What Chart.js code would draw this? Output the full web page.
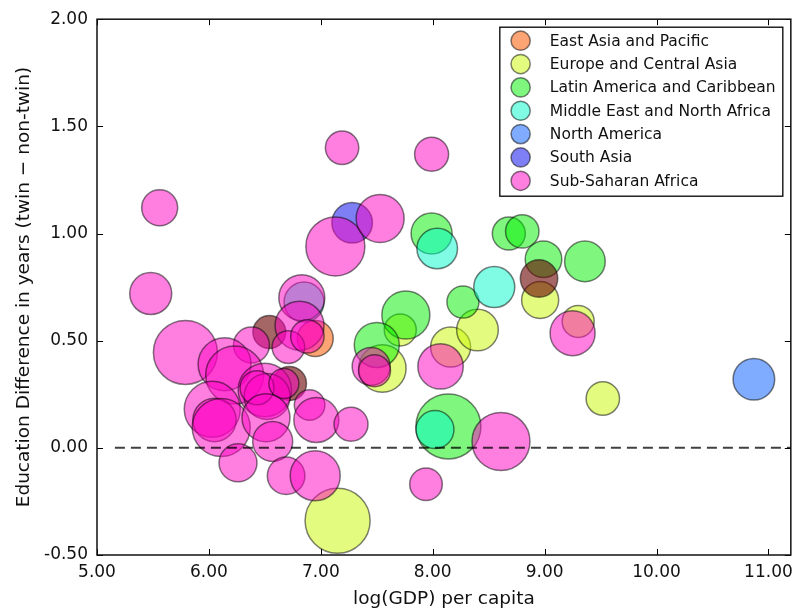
<!DOCTYPE html>
<html>
<head>
<meta charset="utf-8">
<script src="https://cdn.jsdelivr.net/npm/chart.js@4.4.0/dist/chart.umd.min.js"></script>
<style>
html,body{margin:0;padding:0;background:#fff;}
#wrap{width:800px;height:614px;}
</style>
</head>
<body>
<div id="wrap"><canvas id="c" width="800" height="614"></canvas></div>
<script>
// ---- data (x = log GDP per capita, y = education difference, s = bubble size) ----
const regionNames = ["East Asia and Pacific","Europe and Central Asia","Latin America and Caribbean","Middle East and North Africa","North America","South Asia","Sub-Saharan Africa"];

const eapX = [6.95];
const eapY = [0.51];
const eapS = [18];

const ecaX = [7.15, 7.55, 7.71, 8.16, 8.40, 8.96, 9.30, 9.52];
const ecaY = [-0.34, 0.37, 0.55, 0.47, 0.55, 0.69, 0.59, 0.23];
const ecaS = [32.5, 23.7, 16, 20, 20.8, 18.5, 16, 16.7];

const lacX = [7.99, 8.68, 8.80, 8.99, 9.36, 8.27, 7.76, 7.50, 8.14];
const lacY = [1.00, 1.00, 1.01, 0.88, 0.87, 0.68, 0.62, 0.48, 0.10];
const lacS = [20.5, 16.5, 16.7, 18.3, 20.3, 16, 24, 22.5, 32.5];

const menaX = [8.04, 8.55, 8.02, 6.85];
const menaY = [0.93, 0.75, 0.085, 0.68];
const menaS = [20.3, 20.5, 19, 20];

const naX = [10.87];
const naY = [0.32];
const naS = [20.8];

const saX = [7.28];
const saY = [1.05];
const saS = [20.3];

const otherX = [6.54, 8.95, 6.72];
const otherY = [0.54, 0.79, 0.30];
const otherS = [16.5, 18.7, 17];

const ssaX = [7.19, 7.99, 5.56, 5.48, 7.13, 7.53, 5.79, 6.83, 6.81, 6.71, 6.88, 6.38, 6.14, 6.23, 6.50, 6.52, 6.43, 6.67, 6.90, 6.96, 7.27, 6.03, 6.05, 6.11, 6.51, 6.57, 6.26, 6.69, 6.95, 7.45, 7.48, 8.07, 9.25, 8.61, 7.94];
const ssaY = [1.40, 1.37, 1.12, 0.72, 0.94, 1.07, 0.445, 0.70, 0.57, 0.47, 0.52, 0.48, 0.39, 0.34, 0.27, 0.24, 0.28, 0.30, 0.20, 0.13, 0.11, 0.18, 0.13, 0.095, 0.14, 0.03, -0.07, -0.13, -0.13, 0.38, 0.36, 0.38, 0.535, 0.03, -0.17];
const ssaS = [16.7, 17, 18, 21, 29.5, 24, 32, 23, 24.5, 16.3, 16.7, 18, 26.5, 29, 26.7, 23, 17, 15, 15.3, 22.5, 17, 28, 21.7, 29, 24, 20, 19, 18.8, 25, 19, 16, 22.7, 22.5, 29, 16.3];

const xTickMin = 5, xTickMax = 11.2, xStep = 1;
const yTickMin = -0.5, yTickMax = 2, yStep = 0.5;
const refLineY = 0, refLineStart = 5.16;

// ---- styling ----
const colors = {
  eap: 'rgba(250,90,0,0.55)',
  eca: 'rgba(200,250,0,0.5)',
  lac: 'rgba(0,240,0,0.5)',
  mena: 'rgba(0,250,200,0.5)',
  na: 'rgba(0,90,255,0.5)',
  sa: 'rgba(0,0,235,0.5)',
  other: 'rgba(105,0,0,0.6)',
  ssa: 'rgba(255,0,195,0.5)'
};
const EDGE = 'rgba(0,0,0,0.5)';
const FONT = 'DejaVu Sans';

function pts(xs, ys, ss){ return xs.map((x,i)=>({x:x, y:ys[i], r:ss[i]})); }

function ds(label, key, xs, ys, ss, order, inLegend){
  return {label:label, data:pts(xs,ys,ss), backgroundColor:colors[key], borderColor:EDGE, borderWidth:1.5,
          hoverBorderWidth:1.5, order:order, inLegend:inLegend};
}

const datasets = [
  ds(regionNames[0],'eap',eapX,eapY,eapS,7,true),
  ds(regionNames[1],'eca',ecaX,ecaY,ecaS,6,true),
  ds(regionNames[2],'lac',lacX,lacY,lacS,5,true),
  ds(regionNames[3],'mena',menaX,menaY,menaS,4,true),
  ds(regionNames[4],'na',naX,naY,naS,3,true),
  ds(regionNames[5],'sa',saX,saY,saS,2,true),
  ds(regionNames[6],'ssa',ssaX,ssaY,ssaS,0,true),
  ds('Other','other',otherX,otherY,otherS,1,false)
];

const decorPlugin = {
  id:'decor',
  afterDatasetsDraw(chart){
    const ctx = chart.ctx, xs = chart.scales.x, ys = chart.scales.y, a = chart.chartArea;
    ctx.save();
    ctx.beginPath();
    ctx.rect(a.left, a.top, a.right-a.left, a.bottom-a.top);
    ctx.clip();
    ctx.setLineDash([10,6]);
    ctx.lineWidth = 2;
    ctx.strokeStyle = 'rgba(0,0,0,0.75)';
    const y0 = ys.getPixelForValue(refLineY);
    ctx.beginPath();
    ctx.moveTo(xs.getPixelForValue(refLineStart), y0);
    ctx.lineTo(a.right, y0);
    ctx.stroke();
    ctx.restore();
  },
  afterDraw(chart){
    const ctx = chart.ctx, xs = chart.scales.x, ys = chart.scales.y, a = chart.chartArea;
    ctx.save();
    ctx.strokeStyle = '#000';
    ctx.lineWidth = 1;
    const tl = 6;
    xs.ticks.forEach(t=>{
      const px = Math.round(xs.getPixelForValue(t.value))+0.5;
      ctx.beginPath();
      ctx.moveTo(px, a.bottom); ctx.lineTo(px, a.bottom-tl);
      ctx.moveTo(px, a.top); ctx.lineTo(px, a.top+tl);
      ctx.stroke();
    });
    ys.ticks.forEach(t=>{
      const py = Math.round(ys.getPixelForValue(t.value))+0.5;
      ctx.beginPath();
      ctx.moveTo(a.left, py); ctx.lineTo(a.left+tl, py);
      ctx.moveTo(a.right, py); ctx.lineTo(a.right-tl, py);
      ctx.stroke();
    });
    ctx.lineWidth = 1.5;
    ctx.strokeStyle = '#111';
    ctx.strokeRect(a.left, a.top, a.right-a.left, a.bottom-a.top);

    // legend
    const items = chart.data.datasets.filter(d=>d.inLegend);
    const bw = 283, bh = 169;
    const bx = a.right - 8 - bw, by = a.top + 8;
    ctx.fillStyle = '#fff';
    ctx.fillRect(bx, by, bw, bh);
    ctx.lineWidth = 1.3;
    ctx.strokeStyle = '#000';
    ctx.strokeRect(bx, by, bw, bh);
    ctx.font = '15.5px "' + FONT + '"';
    ctx.textBaseline = 'middle';
    ctx.textAlign = 'left';
    items.forEach((d,i)=>{
      const cy = by + 13.5 + i*23.35;
      ctx.beginPath();
      ctx.arc(bx + 20.8, cy, 9.6, 0, Math.PI*2);
      ctx.fillStyle = d.backgroundColor;
      ctx.fill();
      ctx.lineWidth = 1.5;
      ctx.strokeStyle = EDGE;
      ctx.stroke();
      ctx.fillStyle = '#111';
      ctx.fillText(d.label, bx + 50, cy + 1);
    });
    ctx.restore();
  }
};

new Chart(document.getElementById('c'), {
  type:'bubble',
  data:{datasets:datasets},
  plugins:[decorPlugin],
  options:{
    responsive:false,
    animation:false,
    devicePixelRatio:1,
    layout:{padding:{left:0,right:7,top:17,bottom:0}, autoPadding:false},
    plugins:{legend:{display:false}, tooltip:{enabled:false}},
    events:[],
    scales:{
      x:{
        type:'linear', min:xTickMin, max:xTickMax,
        grid:{display:false, drawTicks:false}, border:{display:false},
        ticks:{stepSize:xStep, includeBounds:false, autoSkip:false, maxRotation:0, padding:7, color:'#111',
               font:{family:FONT, size:17}, callback:v=>Number(v).toFixed(2)},
        title:{display:true, text:'log(GDP) per capita', color:'#111', font:{family:FONT, size:18.5}, padding:{top:0,bottom:4}},
        afterFit(s){ s.height = 59; }
      },
      y:{
        type:'linear', min:yTickMin, max:yTickMax,
        grid:{display:false, drawTicks:false}, border:{display:false},
        ticks:{stepSize:yStep, includeBounds:false, autoSkip:false, padding:9, color:'#111',
               font:{family:FONT, size:17}, callback:v=>Number(v).toFixed(2)},
        title:{display:true, text:'Education Difference in years (twin \u2212 non-twin)', color:'#111', font:{family:FONT, size:18.5}, padding:{top:13,bottom:0}},
        afterFit(s){ s.width = 97; }
      }
    }
  }
});
</script>
</body>
</html>
